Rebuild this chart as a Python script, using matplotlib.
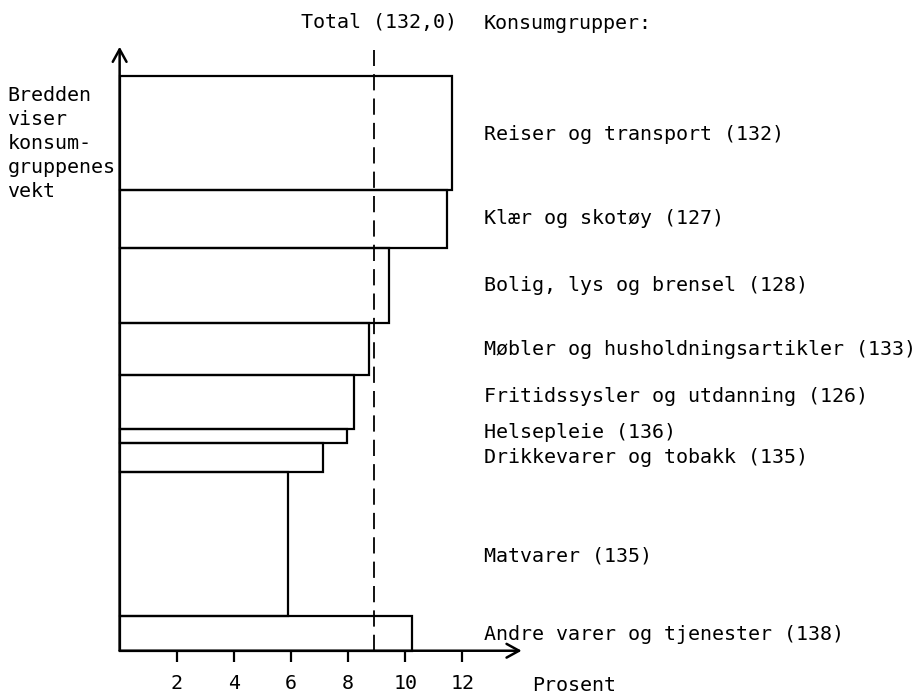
import numpy as np
import matplotlib
matplotlib.use("Agg")
import matplotlib.pyplot as plt

# ------------------------------------------------------------
# Data
# ------------------------------------------------------------
categories = [
    "Reiser og transport (132)",
    "Klær og skotøy (127)",
    "Bolig, lys og brensel (128)",
    "Møbler og husholdningsartikler (133)",
    "Fritidssysler og utdanning (126)",
    "Helsepleie (136)",
    "Drikkevarer og tobakk (135)",
    "Matvarer (135)",
    "Andre varer og tjenester (138)",
]
weights = [198, 101, 131, 90, 94, 24, 51, 250, 61]      # bar height = group weight
percent = [11.65, 11.46, 9.45, 8.75, 8.22, 7.95, 7.11, 5.91, 10.24]
total_label = "Total (132,0)"
x_ticks = [2, 4, 6, 8, 10, 12]

# small vertical nudges of the group labels (layout only)
label_shift = [-2, 0, 0, 0, 9, 5, 0, -22, -3]

FONT = "DejaVu Sans Mono"
FS = 14.4
LW = 1.6

fig = plt.figure(figsize=(9.21, 6.95), dpi=100)
ax = fig.add_axes([0.1299, 0.0637, 0.4340, 0.8269])
ax.set_xlim(0, 14)
ax.set_ylim(0, 1000)
for s in ax.spines.values():
    s.set_visible(False)

# ------------------------------------------------------------
# Variable width bars, stacked from the top
# ------------------------------------------------------------
w = np.array(weights, dtype=float)
tops = w.sum() - np.concatenate([[0], np.cumsum(w)[:-1]])
bottoms = tops - w
ax.barh(bottoms, percent, height=w, align="edge", fill=False,
        edgecolor="black", linewidth=LW, clip_on=False)

for lab, b, h, dy in zip(categories, bottoms, w, label_shift):
    ax.text(12.76, b + h / 2 + dy, lab, family=FONT, fontsize=FS,
            ha="left", va="center", clip_on=False)

# weighted total as dashed line
total = np.average(percent, weights=w)
ax.plot([total, total], [0, 1045], color="black", lw=1.3,
        linestyle=(0, (9, 4.5)), clip_on=False)
ax.text(total + 0.15, 1094, total_label, family=FONT, fontsize=FS,
        ha="center", va="center", clip_on=False)
ax.text(12.76, 1092, "Konsumgrupper:", family=FONT, fontsize=FS,
        ha="left", va="center", clip_on=False)

# ------------------------------------------------------------
# Axes drawn as arrows
# ------------------------------------------------------------
arrow = dict(arrowstyle="->,head_length=0.6,head_width=0.33", lw=LW + 0.2,
             color="black", mutation_scale=15, shrinkA=0, shrinkB=0)
ax.annotate("", xy=(14.08, 0), xytext=(0, 0), arrowprops=arrow,
            annotation_clip=False)
ax.annotate("", xy=(0, 1051), xytext=(0, 0), arrowprops=arrow,
            annotation_clip=False)

ax.set_yticks([])
ax.set_xticks(x_ticks)
ax.set_xticklabels([str(t) for t in x_ticks], family=FONT, fontsize=FS)
ax.tick_params(axis="x", direction="out", length=8, width=LW, pad=9)

ax.text(14.43, -61, "Prosent", family=FONT, fontsize=FS,
        ha="left", va="center", clip_on=False)
ax.text(-3.93, 982, "Bredden\nviser\nkonsum-\ngruppenes\nvekt", family=FONT,
        fontsize=FS, ha="left", va="top", linespacing=1.33, clip_on=False)

fig.savefig("out.png", dpi=100)
